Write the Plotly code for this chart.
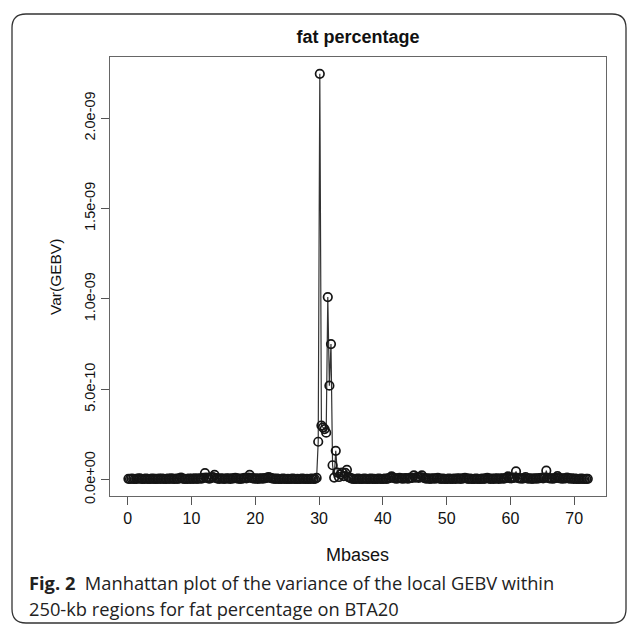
import numpy as np
import plotly.graph_objects as go

# Var(GEBV) of consecutive 250-kb regions along BTA20, in units of 1e-10
var_gebv_e10 = [
    0.05,0.04,0.06,0.05,0.04,0.05,0.06,0.08,0.05,0.04,0.05,0.06,0.05,0.04,0.05,0.06,0.05,0.05,0.04,0.06,
    0.05,0.06,0.05,0.04,0.05,0.06,0.05,0.07,0.05,0.04,0.06,0.05,0.07,0.12,0.06,0.05,0.04,0.05,0.06,0.05,
    0.06,0.05,0.07,0.05,0.06,0.08,0.06,0.10,0.37,0.12,0.08,0.06,0.10,0.14,0.27,0.09,0.06,0.05,0.07,0.06,
    0.05,0.06,0.08,0.06,0.05,0.07,0.08,0.10,0.07,0.06,0.05,0.06,0.08,0.10,0.07,0.12,0.27,0.10,0.08,0.06,
    0.07,0.05,0.06,0.08,0.06,0.07,0.09,0.12,0.15,0.10,0.07,0.06,0.05,0.06,0.05,0.04,0.05,0.06,0.05,0.04,
    0.05,0.04,0.05,0.06,0.05,0.04,0.05,0.04,0.05,0.06,0.05,0.04,0.05,0.04,0.05,0.06,0.05,0.04,
    0.10,2.10,22.45,3.00,2.90,2.80,2.60,10.10,5.20,7.50,0.80,0.12,1.60,0.40,0.15,0.30,0.40,0.20,0.38,0.55,0.15,0.10,
    0.06,0.05,0.04,0.05,0.06,0.05,0.04,0.05,0.06,0.05,0.04,0.05,0.06,0.05,0.05,0.04,0.05,0.06,0.05,0.04,
    0.05,0.06,0.05,0.08,0.10,0.18,0.12,0.08,0.06,0.07,0.10,0.08,0.06,0.07,0.09,0.06,0.08,0.12,0.10,0.24,
    0.12,0.15,0.10,0.14,0.24,0.12,0.08,0.06,0.07,0.05,0.06,0.08,0.06,0.07,0.10,0.06,0.05,0.06,0.05,0.04,
    0.05,0.06,0.05,0.04,0.06,0.05,0.06,0.07,0.05,0.06,0.08,0.10,0.07,0.05,0.06,0.05,0.04,0.05,0.06,0.05,
    0.04,0.05,0.06,0.05,0.07,0.10,0.06,0.05,0.06,0.05,0.06,0.07,0.05,0.06,0.08,0.06,0.07,0.10,0.18,0.09,
    0.08,0.10,0.12,0.46,0.10,0.07,0.08,0.06,0.09,0.15,0.08,0.06,0.07,0.05,0.06,0.08,0.06,0.07,0.09,0.10,
    0.08,0.12,0.50,0.10,0.08,0.07,0.06,0.08,0.10,0.20,0.09,0.07,0.06,0.08,0.07,0.12,0.08,0.06,0.07,0.05,
    0.06,0.05,0.04,0.05,0.06,0.05,0.04,0.05,0.05,
]
region_size_mb = 0.25
x_ticks = [0, 10, 20, 30, 40, 50, 60, 70]
y_ticks = [0, 5e-10, 1e-9, 1.5e-9, 2e-9]
y_tick_text = ["0.0e+00", "5.0e-10", "1.0e-09", "1.5e-09", "2.0e-09"]

var_gebv = np.array(var_gebv_e10) * 1e-10
mbases = (np.arange(len(var_gebv)) + 0.5) * region_size_mb

W, H = 630, 626
L, R, T, B = 110, 24, 57, 130
PW, PH = W - L - R, H - T - B

def px(x, y):
    return ((x - L) / PW, 1 - (y - T) / PH)

fig = go.Figure()
fig.add_trace(go.Scatter(
    x=mbases, y=var_gebv, mode="lines+markers",
    line=dict(color="#333333", width=1.2),
    marker=dict(symbol="circle-open", size=8.5, color="#151515", line=dict(width=1.7)),
    showlegend=False, hoverinfo="x+y",
))

FONT = "Liberation Sans"
fig.update_xaxes(range=[-2.76, 74.98], tickvals=x_ticks, ticks="outside", ticklen=8,
                 tickcolor="#555", showline=True, linecolor="#666", linewidth=1, mirror=True,
                 showgrid=False, zeroline=False, tickfont=dict(family=FONT, size=16, color="#111"))
fig.update_yaxes(range=[-0.09e-9, 2.338e-9], tickvals=y_ticks, ticktext=y_tick_text,
                 tickangle=-90, ticks="outside", ticklen=8, tickcolor="#555",
                 showline=True, linecolor="#666", linewidth=1, mirror=True,
                 showgrid=False, zeroline=False, tickfont=dict(family=FONT, size=14.5, color="#111"))

# rounded frame
x0, x1, y0, y1, r = 12, 626, 14, 623, 14
def P(x, y):
    a, b = px(x, y)
    return f"{a:.5f},{b:.5f}"
path = (f"M {P(x0, y0 + r)} Q {P(x0, y0)} {P(x0 + r, y0)} L {P(x1 - r, y0)} "
        f"Q {P(x1, y0)} {P(x1, y0 + r)} L {P(x1, y1 - r)} Q {P(x1, y1)} {P(x1 - r, y1)} "
        f"L {P(x0 + r, y1)} Q {P(x0, y1)} {P(x0, y1 - r)} Z")
fig.add_shape(type="path", path=path, xref="paper", yref="paper",
              line=dict(color="#333", width=1.3), fillcolor="rgba(0,0,0,0)", layer="below")

annots = []
ax_, ay_ = px(357, 555)
annots.append(dict(text="Mbases", x=ax_, y=ay_, xref="paper", yref="paper",
                   showarrow=False, font=dict(family=FONT, size=18, color="#111"),
                   xanchor="center", yanchor="middle"))
ax_, ay_ = px(55, 277)
annots.append(dict(text="Var(GEBV)", x=ax_, y=ay_, xref="paper", yref="paper", textangle=-90,
                   showarrow=False, font=dict(family=FONT, size=15.5, color="#111"),
                   xanchor="center", yanchor="middle"))
cap_font = dict(family="Open Sans", size=18.3, color="#222")
ax_, ay_ = px(27, 582)
annots.append(dict(text="<b>Fig. 2</b>  Manhattan plot of the variance of the local GEBV within",
                   x=ax_, y=ay_, xref="paper", yref="paper", showarrow=False, font=cap_font,
                   xanchor="left", yanchor="middle"))
ax_, ay_ = px(27, 608)
annots.append(dict(text="250-kb regions for fat percentage on BTA20",
                   x=ax_, y=ay_, xref="paper", yref="paper", showarrow=False, font=cap_font,
                   xanchor="left", yanchor="middle"))

fig.update_layout(
    width=W, height=H, margin=dict(l=L, r=R, t=T, b=B, autoexpand=False),
    paper_bgcolor="white", plot_bgcolor="white",
    title=dict(text="<b>fat percentage</b>", x=(L + PW / 2) / W, xanchor="center",
               y=1 - 37 / H, yanchor="middle", yref="container",
               font=dict(family=FONT, size=18, color="#111")),
    annotations=annots,
)

fig.write_html("out.html")
